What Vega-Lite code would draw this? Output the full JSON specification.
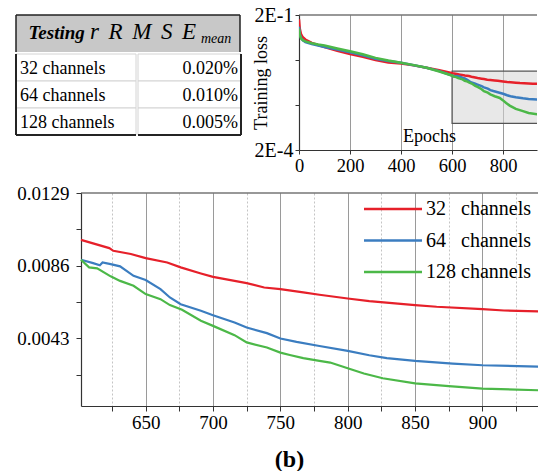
{
  "$schema": "https://vega.github.io/schema/vega-lite/v6.json",
  "padding": {"left": 15, "top": 5, "right": 0, "bottom": 0},
  "config": {
    "font": "Liberation Serif",
    "view": {"stroke": null},
    "text": {"font": "Liberation Serif"},
    "axis": {"labelFont": "Liberation Serif", "titleFont": "Liberation Serif", "labelColor": "#000", "titleColor": "#000", "domainColor": "#333", "domainWidth": 1.2, "tickColor": "#333", "tickWidth": 1, "labelFlush": false, "labelOverlap": false, "titleFontWeight": "normal"},
    "legend": {"labelFont": "Liberation Serif"}
  },
  "datasets": {
    "hdr": [{"k": "h"}],
    "tbl": [
      {"r": "32", "name": "32 channels", "val": "0.020%"},
      {"r": "64", "name": "64 channels", "val": "0.010%"},
      {"r": "128", "name": "128 channels", "val": "0.005%"}
    ],
    "box": [{"x1": 600, "x2": 1000, "y1": 0.00078, "y2": 0.0113}],
    "frame": [{"x1": 602, "x2": 942, "y": 0.0129}],
    "loss": [
      {"e": 0, "s": "32 channels", "v": 0.16}, {"e": 3, "s": "32 channels", "v": 0.1}, {"e": 8, "s": "32 channels", "v": 0.075}, {"e": 15, "s": "32 channels", "v": 0.064}, {"e": 25, "s": "32 channels", "v": 0.057}, {"e": 50, "s": "32 channels", "v": 0.048}, {"e": 75, "s": "32 channels", "v": 0.043}, {"e": 100, "s": "32 channels", "v": 0.039}, {"e": 150, "s": "32 channels", "v": 0.032}, {"e": 200, "s": "32 channels", "v": 0.027}, {"e": 250, "s": "32 channels", "v": 0.0235}, {"e": 300, "s": "32 channels", "v": 0.02}, {"e": 350, "s": "32 channels", "v": 0.0175}, {"e": 400, "s": "32 channels", "v": 0.0168}, {"e": 450, "s": "32 channels", "v": 0.0152}, {"e": 500, "s": "32 channels", "v": 0.0134}, {"e": 550, "s": "32 channels", "v": 0.0118},
      {"e": 602, "s": "32 channels", "v": 0.01013}, {"e": 623, "s": "32 channels", "v": 0.00964}, {"e": 626, "s": "32 channels", "v": 0.00948}, {"e": 639, "s": "32 channels", "v": 0.00929}, {"e": 650, "s": "32 channels", "v": 0.00905}, {"e": 666, "s": "32 channels", "v": 0.00879}, {"e": 676, "s": "32 channels", "v": 0.0085}, {"e": 691, "s": "32 channels", "v": 0.00814}, {"e": 700, "s": "32 channels", "v": 0.00794}, {"e": 716, "s": "32 channels", "v": 0.0077}, {"e": 725, "s": "32 channels", "v": 0.00757}, {"e": 738, "s": "32 channels", "v": 0.00731}, {"e": 750, "s": "32 channels", "v": 0.00721}, {"e": 767, "s": "32 channels", "v": 0.00702}, {"e": 779, "s": "32 channels", "v": 0.00688}, {"e": 800, "s": "32 channels", "v": 0.00666}, {"e": 816, "s": "32 channels", "v": 0.0065}, {"e": 850, "s": "32 channels", "v": 0.00627}, {"e": 866, "s": "32 channels", "v": 0.00617}, {"e": 900, "s": "32 channels", "v": 0.00603}, {"e": 916, "s": "32 channels", "v": 0.00595}, {"e": 942, "s": "32 channels", "v": 0.00589},
      {"e": 0, "s": "64 channels", "v": 0.11}, {"e": 3, "s": "64 channels", "v": 0.075}, {"e": 8, "s": "64 channels", "v": 0.062}, {"e": 15, "s": "64 channels", "v": 0.055}, {"e": 25, "s": "64 channels", "v": 0.05}, {"e": 50, "s": "64 channels", "v": 0.045}, {"e": 75, "s": "64 channels", "v": 0.042}, {"e": 100, "s": "64 channels", "v": 0.039}, {"e": 150, "s": "64 channels", "v": 0.034}, {"e": 200, "s": "64 channels", "v": 0.0297}, {"e": 250, "s": "64 channels", "v": 0.0255}, {"e": 300, "s": "64 channels", "v": 0.0212}, {"e": 350, "s": "64 channels", "v": 0.019}, {"e": 400, "s": "64 channels", "v": 0.0173}, {"e": 450, "s": "64 channels", "v": 0.0153}, {"e": 500, "s": "64 channels", "v": 0.0134}, {"e": 550, "s": "64 channels", "v": 0.0113},
      {"e": 602, "s": "64 channels", "v": 0.00895}, {"e": 611, "s": "64 channels", "v": 0.00875}, {"e": 616, "s": "64 channels", "v": 0.00863}, {"e": 618, "s": "64 channels", "v": 0.00879}, {"e": 624, "s": "64 channels", "v": 0.00869}, {"e": 631, "s": "64 channels", "v": 0.00856}, {"e": 641, "s": "64 channels", "v": 0.008}, {"e": 650, "s": "64 channels", "v": 0.00775}, {"e": 661, "s": "64 channels", "v": 0.00721}, {"e": 668, "s": "64 channels", "v": 0.00672}, {"e": 676, "s": "64 channels", "v": 0.00632}, {"e": 691, "s": "64 channels", "v": 0.00593}, {"e": 700, "s": "64 channels", "v": 0.00567}, {"e": 716, "s": "64 channels", "v": 0.00524}, {"e": 725, "s": "64 channels", "v": 0.00494}, {"e": 740, "s": "64 channels", "v": 0.00461}, {"e": 750, "s": "64 channels", "v": 0.00429}, {"e": 762, "s": "64 channels", "v": 0.00409}, {"e": 779, "s": "64 channels", "v": 0.00385}, {"e": 800, "s": "64 channels", "v": 0.00356}, {"e": 816, "s": "64 channels", "v": 0.0033}, {"e": 829, "s": "64 channels", "v": 0.00313}, {"e": 850, "s": "64 channels", "v": 0.00297}, {"e": 878, "s": "64 channels", "v": 0.00281}, {"e": 900, "s": "64 channels", "v": 0.00271}, {"e": 942, "s": "64 channels", "v": 0.00263},
      {"e": 0, "s": "128 channels", "v": 0.1}, {"e": 3, "s": "128 channels", "v": 0.072}, {"e": 8, "s": "128 channels", "v": 0.06}, {"e": 15, "s": "128 channels", "v": 0.055}, {"e": 25, "s": "128 channels", "v": 0.052}, {"e": 50, "s": "128 channels", "v": 0.047}, {"e": 75, "s": "128 channels", "v": 0.044}, {"e": 100, "s": "128 channels", "v": 0.042}, {"e": 150, "s": "128 channels", "v": 0.036}, {"e": 200, "s": "128 channels", "v": 0.0312}, {"e": 250, "s": "128 channels", "v": 0.0268}, {"e": 300, "s": "128 channels", "v": 0.0223}, {"e": 350, "s": "128 channels", "v": 0.0195}, {"e": 400, "s": "128 channels", "v": 0.0174}, {"e": 450, "s": "128 channels", "v": 0.0154}, {"e": 500, "s": "128 channels", "v": 0.0134}, {"e": 550, "s": "128 channels", "v": 0.0111},
      {"e": 602, "s": "128 channels", "v": 0.00895}, {"e": 608, "s": "128 channels", "v": 0.0085}, {"e": 614, "s": "128 channels", "v": 0.00844}, {"e": 624, "s": "128 channels", "v": 0.00797}, {"e": 631, "s": "128 channels", "v": 0.0077}, {"e": 641, "s": "128 channels", "v": 0.00741}, {"e": 650, "s": "128 channels", "v": 0.00692}, {"e": 661, "s": "128 channels", "v": 0.00662}, {"e": 668, "s": "128 channels", "v": 0.00627}, {"e": 677, "s": "128 channels", "v": 0.00599}, {"e": 691, "s": "128 channels", "v": 0.00534}, {"e": 700, "s": "128 channels", "v": 0.00504}, {"e": 716, "s": "128 channels", "v": 0.00449}, {"e": 725, "s": "128 channels", "v": 0.00406}, {"e": 740, "s": "128 channels", "v": 0.00376}, {"e": 750, "s": "128 channels", "v": 0.00346}, {"e": 757, "s": "128 channels", "v": 0.00332}, {"e": 767, "s": "128 channels", "v": 0.00313}, {"e": 779, "s": "128 channels", "v": 0.00297}, {"e": 787, "s": "128 channels", "v": 0.00287}, {"e": 800, "s": "128 channels", "v": 0.00253}, {"e": 812, "s": "128 channels", "v": 0.00222}, {"e": 826, "s": "128 channels", "v": 0.00194}, {"e": 850, "s": "128 channels", "v": 0.00164}, {"e": 875, "s": "128 channels", "v": 0.00148}, {"e": 900, "s": "128 channels", "v": 0.00133}, {"e": 942, "s": "128 channels", "v": 0.00123}
    ]
  },
  "spacing": 9,
  "resolve": {"scale": {"color": "independent"}, "legend": {"color": "independent"}},
  "vconcat": [
    {
      "spacing": 10,
      "resolve": {"scale": {"color": "independent"}, "legend": {"color": "independent"}},
      "hconcat": [
        {
          "spacing": 0,
          "vconcat": [
            {
              "width": 224, "height": 37,
              "view": {"fill": "#c8c8c8", "stroke": null},
              "data": {"name": "hdr"},
              "layer": [
                {"mark": {"type": "text", "text": "Testing", "font": "Liberation Serif", "fontStyle": "italic", "fontWeight": "bold", "fontSize": 19, "align": "left", "baseline": "alphabetic", "dx": 12.5, "dy": 5.5},
                 "encoding": {"x": {"datum": "h", "type": "nominal", "bandPosition": 0, "scale": {"paddingInner": 0, "paddingOuter": 0}, "axis": null}}},
                {"mark": {"type": "text", "text": "r\u2005\u2006R\u2005\u2006M\u2005\u2006S\u2005\u2006E", "font": "Liberation Serif", "fontStyle": "italic", "fontSize": 23, "align": "left", "baseline": "alphabetic", "dx": 74, "dy": 5.5},
                 "encoding": {"x": {"datum": "h", "type": "nominal", "bandPosition": 0, "axis": null}}},
                {"mark": {"type": "text", "text": "mean", "font": "Liberation Serif", "fontStyle": "italic", "fontSize": 14, "align": "left", "baseline": "alphabetic", "dx": 185, "dy": 9.5},
                 "encoding": {"x": {"datum": "h", "type": "nominal", "bandPosition": 0, "axis": null}}},
                {"mark": {"type": "rule", "stroke": "#222", "strokeWidth": 1.5},
                 "encoding": {"y": {"datum": "h", "type": "nominal", "bandPosition": 0, "scale": {"paddingInner": 0, "paddingOuter": 0}, "axis": null}}},
                {"mark": {"type": "rule", "stroke": "#222", "strokeWidth": 1.5},
                 "encoding": {"x": {"datum": "h", "type": "nominal", "bandPosition": 0, "axis": null}}},
                {"mark": {"type": "rule", "stroke": "#222", "strokeWidth": 1.5},
                 "encoding": {"x": {"datum": "h", "type": "nominal", "bandPosition": 1, "axis": null}}}
              ]
            },
            {
              "spacing": 0,
              "hconcat": [
                {
                  "width": 120, "height": 81,
                  "data": {"name": "tbl"},
                  "layer": [
                    {"mark": {"type": "rect", "fill": "#ffffff", "stroke": "#d4d4d4", "strokeWidth": 1},
                     "encoding": {"y": {"field": "r", "type": "nominal", "sort": ["32", "64", "128"], "scale": {"paddingInner": 0, "paddingOuter": 0}, "axis": null}}},
                    {"mark": {"type": "text", "font": "Liberation Serif", "fontSize": 18, "align": "left", "baseline": "middle", "dx": 4, "dy": 1},
                     "encoding": {"y": {"field": "r", "type": "nominal", "sort": ["32", "64", "128"], "axis": null},
                                  "x": {"datum": "a", "type": "nominal", "bandPosition": 0, "scale": {"paddingInner": 0, "paddingOuter": 0}, "axis": null},
                                  "text": {"field": "name"}}},
                    {"mark": {"type": "rule", "stroke": "#222", "strokeWidth": 1.5},
                     "encoding": {"x": {"datum": "a", "type": "nominal", "bandPosition": 0, "axis": null}}},
                    {"mark": {"type": "rule", "stroke": "#222", "strokeWidth": 1.5},
                     "encoding": {"y": {"datum": "128", "type": "nominal", "bandPosition": 1, "axis": null}}}
                  ]
                },
                {
                  "width": 103, "height": 81,
                  "data": {"name": "tbl"},
                  "layer": [
                    {"mark": {"type": "rect", "fill": "#ffffff", "stroke": "#d4d4d4", "strokeWidth": 1},
                     "encoding": {"y": {"field": "r", "type": "nominal", "sort": ["32", "64", "128"], "scale": {"paddingInner": 0, "paddingOuter": 0}, "axis": null}}},
                    {"mark": {"type": "text", "font": "Liberation Serif", "fontSize": 18, "align": "right", "baseline": "middle", "dx": -3, "dy": 1},
                     "encoding": {"y": {"field": "r", "type": "nominal", "sort": ["32", "64", "128"], "axis": null},
                                  "x": {"datum": "b", "type": "nominal", "bandPosition": 1, "scale": {"paddingInner": 0, "paddingOuter": 0}, "axis": null},
                                  "text": {"field": "val"}}},
                    {"mark": {"type": "rule", "stroke": "#222", "strokeWidth": 1.5},
                     "encoding": {"x": {"datum": "b", "type": "nominal", "bandPosition": 1, "axis": null}}},
                    {"mark": {"type": "rule", "stroke": "#222", "strokeWidth": 1.5},
                     "encoding": {"y": {"datum": "128", "type": "nominal", "bandPosition": 1, "axis": null}}}
                  ]
                }
              ]
            }
          ]
        },
        {
          "width": 238, "height": 135,
          "layer": [
            {"data": {"name": "box"},
             "mark": {"type": "rect", "fill": "#d6d6d6", "fillOpacity": 0.55, "stroke": "#555", "strokeWidth": 1.2, "clip": true},
             "encoding": {
               "x": {"field": "x1", "type": "quantitative", "scale": {"domain": [0, 933], "nice": false, "zero": false},
                     "axis": {"values": [0, 100, 200, 300, 400, 500, 600, 700, 800, 900], "format": "d", "labelExpr": "datum.value % 200 == 0 ? datum.label : ''",
                              "grid": true, "gridColor": "#9a9a9a", "gridOpacity": {"condition": {"test": "datum.value % 200 != 0 || datum.value == 0", "value": 0}, "value": 1},
                              "tickSize": 4, "labelPadding": 2, "labelFontSize": 18.5,
                              "title": "Epochs", "titleFontSize": 18, "titleX": 130, "titleY": -8.5, "titleBaseline": "alphabetic", "titleAlign": "center"}},
               "x2": {"field": "x2"},
               "y": {"field": "y1", "type": "quantitative", "scale": {"type": "log", "domain": [0.0002, 0.2], "nice": false},
                     "axis": {"values": [0.0002, 0.002, 0.02, 0.2], "labelExpr": "datum.value > 0.1 ? '2E-1' : (datum.value < 0.0005 ? '2E-4' : '')",
                              "grid": false, "tickSize": 4, "labelPadding": 2, "labelFontSize": 20,
                              "title": "Training loss", "titleFontSize": 18, "titlePadding": 4, "minExtent": 25, "maxExtent": 25}},
               "y2": {"field": "y2"}
             }},
            {"data": {"name": "loss"},
             "mark": {"type": "line", "strokeWidth": 2.5, "clip": true},
             "encoding": {
               "x": {"field": "e", "type": "quantitative"},
               "y": {"field": "v", "type": "quantitative"},
               "color": {"field": "s", "type": "nominal", "scale": {"domain": ["32 channels", "64 channels", "128 channels"], "range": ["#e6202a", "#3b7dc0", "#4cb848"]}, "legend": null}
             }},
            {"data": {"values": [{}]},
             "mark": {"type": "rule", "stroke": "#333", "strokeWidth": 1.2},
             "encoding": {"y": {"datum": 0.2, "type": "quantitative"}}}
          ]
        }
      ]
    },
    {
      "width": 523, "height": 213,
      "layer": [
        {"data": {"name": "loss"},
         "transform": [{"filter": "datum.e >= 602"}],
         "mark": {"type": "line", "strokeWidth": 2.2, "clip": true},
         "encoding": {
           "x": {"field": "e", "type": "quantitative", "scale": {"domain": [602, 942], "range": [65, 523], "nice": false, "zero": false},
                 "axis": {"values": [625, 650, 675, 700, 725, 750, 775, 800, 825, 850, 875, 900, 925], "format": "d",
                          "labelExpr": "datum.value % 50 == 0 ? datum.label : ''",
                          "grid": true, "gridWidth": 1,
                          "gridColor": {"condition": {"test": "datum.value % 50 != 0", "value": "#c4c4c4"}, "value": "#9a9a9a"},
                          "gridDash": {"condition": {"test": "datum.value % 50 != 0", "value": [2, 2]}, "value": []},
                          "tickSize": 5, "labelPadding": 2, "labelFontSize": 19,
                          "title": "(b)", "titleFontSize": 24, "titleFontWeight": "bold", "titleX": 273, "titleY": 60, "titleBaseline": "alphabetic", "titleAlign": "center"}},
           "y": {"field": "v", "type": "quantitative", "scale": {"domain": [0.0003, 0.0129], "nice": false, "zero": false},
                 "axis": {"values": [0.0129, 0.01075, 0.0086, 0.00645, 0.0043, 0.00215], "offset": -65,
                          "labelExpr": "indexof([0.0129, 0.0086, 0.0043], datum.value) >= 0 ? format(datum.value, '.4f') : ''",
                          "grid": false, "tickSize": 5, "labelPadding": 7, "labelFontSize": 19, "title": null}},
           "color": {"field": "s", "type": "nominal", "scale": {"domain": ["32 channels", "64 channels", "128 channels"], "range": ["#e6202a", "#3b7dc0", "#4cb848"]},
                     "legend": {"orient": "none", "legendX": 367, "legendY": 6, "title": null, "symbolType": "M-5.8,0H5.8", "symbolSize": 100, "symbolStrokeWidth": 2.5,
                                "labelFontSize": 20, "labelFont": "Liberation Serif", "labelOffset": 23, "rowPadding": 11.5, "padding": 0, "labelLimit": 300,
                                "labelExpr": "datum.label == '128 channels' ? datum.label : replace(datum.label, ' ', '\u00a0\u00a0\u00a0')"}}
         }},
        {"data": {"name": "frame"},
         "mark": {"type": "rule", "stroke": "#333", "strokeWidth": 1.2},
         "encoding": {"x": {"field": "x1", "type": "quantitative"}, "x2": {"field": "x2"}, "y": {"field": "y", "type": "quantitative"}}}
      ]
    }
  ]
}
